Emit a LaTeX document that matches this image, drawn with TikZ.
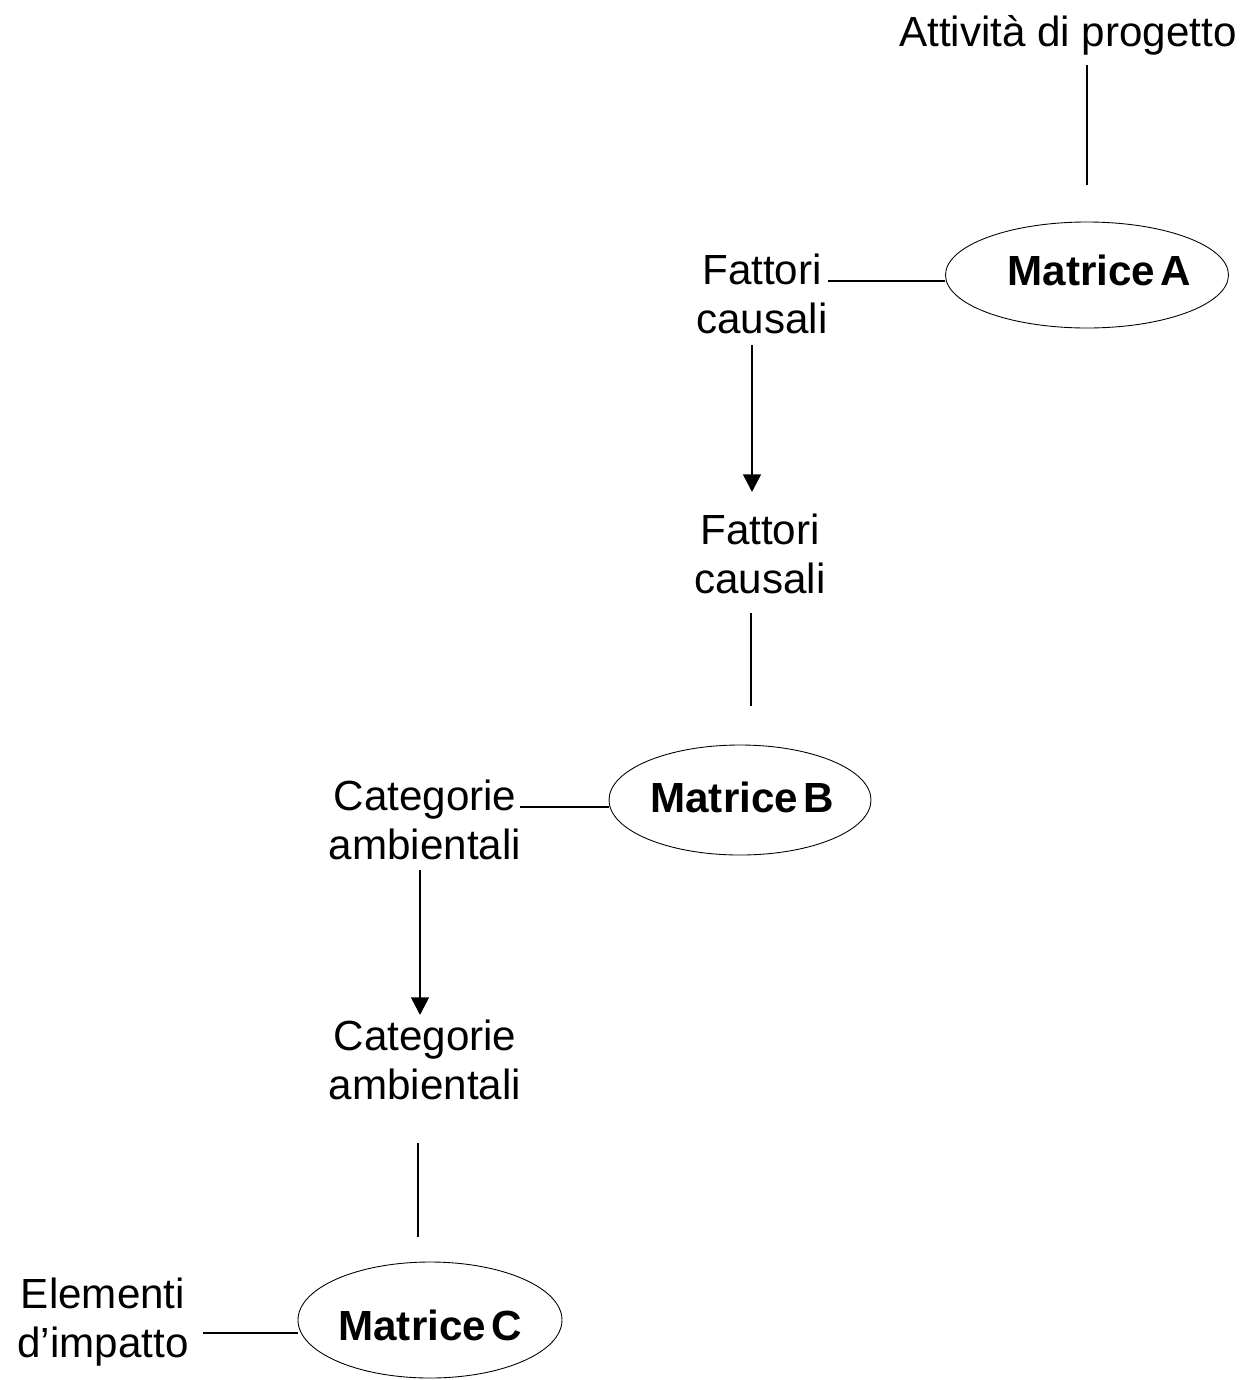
\documentclass[tikz,border=0pt]{standalone}
\usepackage{fontspec}
\setmainfont{Liberation Sans}
\usetikzlibrary{arrows.meta,shapes.geometric}
\begin{document}
\begin{tikzpicture}[x=0.02cm,y=-0.02cm,
  lbl/.style={align=center,inner sep=0pt,font=\fontsize{24}{28}\selectfont},
  matrice/.style={draw,ellipse,inner sep=0pt,line width=0.5pt},
  mtext/.style={inner sep=0pt,font=\bfseries\fontsize{24}{28}\selectfont},
  thinline/.style={line width=0.6pt},
  flow/.style={line width=1.5pt,-{Triangle[length=10pt,width=10pt]}}]
\useasboundingbox (0,0) rectangle (1250,1380);
% text nodes
\node[lbl] (act) at (1068,35) {Attività di progetto};
\node[lbl] (fc1) at (762,294) {Fattori\\causali};
\node[lbl] (fc2) at (760,554) {Fattori\\causali};
\node[lbl] (cat1) at (425,820) {Categorie\\ambientali};
\node[lbl] (cat2) at (425,1060) {Categorie\\ambientali};
\node[lbl] (el) at (103,1322) {Elementi\\d’impatto};
% ellipses
\node[matrice,minimum width=283*0.02cm,minimum height=106*0.02cm] (mA) at (1087,275) {};
\node[mtext] (mAt) at (1099,270) {Matrice\hspace{0.12em}A};
\node[matrice,minimum width=262*0.02cm,minimum height=110*0.02cm] (mB) at (740,800) {};
\node[mtext] (mBt) at (742,797) {Matrice\hspace{0.12em}B};
\node[matrice,minimum width=264*0.02cm,minimum height=116*0.02cm] (mC) at (430,1320) {};
\node[mtext] (mCt) at (430,1325) {Matrice\hspace{0.12em}C};
% connector endpoints
\coordinate (a1) at (1087,65);
\coordinate (a2) at (1087,185);
\coordinate (b1) at (828,281);
\coordinate (c1) at (752,345);
\coordinate (c2) at (752,492);
\coordinate (d1) at (751,613);
\coordinate (d2) at (751,706);
\coordinate (e1) at (520,807);
\coordinate (f1) at (420,870);
\coordinate (f2) at (420,1015);
\coordinate (g1) at (418,1143);
\coordinate (g2) at (418,1237);
\coordinate (h1) at (203,1333);
% connectors
\draw[thinline] (a1) -- (a2);
\draw[thinline] (b1) -- (b1 -| mA.west);
\draw[flow] (c1) -- (c2);
\draw[thinline] (d1) -- (d2);
\draw[thinline] (e1) -- (e1 -| mB.west);
\draw[flow] (f1) -- (f2);
\draw[thinline] (g1) -- (g2);
\draw[thinline] (h1) -- (h1 -| mC.west);
\end{tikzpicture}
\end{document}
